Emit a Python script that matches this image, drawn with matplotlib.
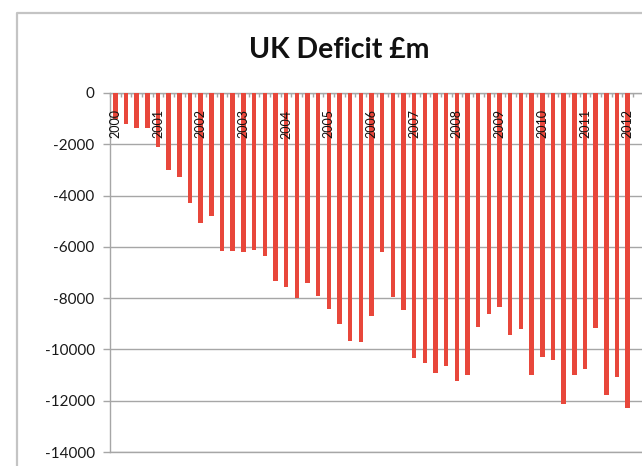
import matplotlib
matplotlib.use("Agg")
import matplotlib.pyplot as plt
from matplotlib.lines import Line2D
from matplotlib.ticker import FixedLocator, FuncFormatter

# Quarterly UK deficit, £m (2000 Q1 onwards)
year_labels = ["2000", "2001", "2002", "2003", "2004", "2005", "2006",
               "2007", "2008", "2009", "2010", "2011", "2012"]
deficit = [
    -1000, -1190, -1380, -1380,      # 2000
    -2100, -3000, -3260, -4280,      # 2001
    -5070, -4780, -6150, -6150,      # 2002
    -6200, -6120, -6350, -7350,      # 2003
    -7560, -7990, -7420, -7900,      # 2004
    -8430, -9000, -9680, -9700,      # 2005
    -8710, -6200, -7970, -8460,      # 2006
    -10330, -10540, -10900, -10640,  # 2007
    -11230, -10990, -9130, -8610,    # 2008
    -8330, -9430, -9220, -10990,     # 2009
    -10280, -10410, -12110, -10990,  # 2010
    -10760, -9170, -11770, -11080,   # 2011
    -12290,                          # 2012
]
y_ticks = [0, -2000, -4000, -6000, -8000, -10000, -12000, -14000]

W, H, DPI = 642, 466, 100
fig = plt.figure(figsize=(W / DPI, H / DPI), dpi=DPI)
fig.patch.set_facecolor("white")

# plot area (runs past the right edge of the canvas)
left_px, top_px, bottom_px, right_px = 110, 93, 452, 665
ax = fig.add_axes([left_px / W, 1 - bottom_px / H,
                   (right_px - left_px) / W, (bottom_px - top_px) / H])

slot_px = 10.95
x0 = -0.32
ax.set_xlim(x0, x0 + (right_px - left_px) / slot_px)
ax.set_ylim(-14000, 0)

xs = list(range(len(deficit)))
ax.bar(xs, deficit, width=0.42, color="#E8473B", edgecolor="none", zorder=3)

# horizontal gridlines
ax.yaxis.set_major_locator(FixedLocator(y_ticks))
ax.yaxis.set_major_formatter(FuncFormatter(lambda v, p: f"{int(v)}"))
ax.grid(axis="y", color="#A6A6A6", linewidth=1.0, zorder=0)
ax.grid(axis="x", visible=False)

grey = "#A6A6A6"
ax.spines["right"].set_visible(False)
for s in ("left", "top", "bottom"):
    ax.spines[s].set_color(grey)
    ax.spines[s].set_linewidth(1.0)

ax.tick_params(axis="y", direction="out", length=5, color=grey, width=1.0,
               labelsize=11, labelcolor="#1a1a1a", pad=6)
for lbl in ax.get_yticklabels():
    lbl.set_fontfamily("Lato")

# category axis sits at zero (top), with small ticks between quarters
ax.xaxis.tick_top()
ax.set_xticks([i + 0.5 for i in range(-1, len(deficit) + 3)])
ax.tick_params(axis="x", direction="in", length=3, color=grey, width=1.0,
               labeltop=False, labelbottom=False)

# year labels at each Q1 bar
for k, yr in enumerate(year_labels):
    xi = 4 * k
    ax.text(xi, -640, yr, rotation=90, ha="center", va="top",
            fontsize=9, family="Lato", color="#111111", zorder=5,
            clip_on=False)

fig.text(339 / W, 1 - 50 / H, "UK Deficit £m", ha="center", va="center",
         fontsize=20.5, fontweight="bold", family="Lato", color="#111111")

# chart-area border
bx, by = 17 / W, 1 - 13 / H
fig.add_artist(Line2D([bx, bx, 1.0], [0.0, by, by], transform=fig.transFigure,
                      color="#C4C4C4", linewidth=1.6))

fig.savefig("out.png", dpi=DPI)
